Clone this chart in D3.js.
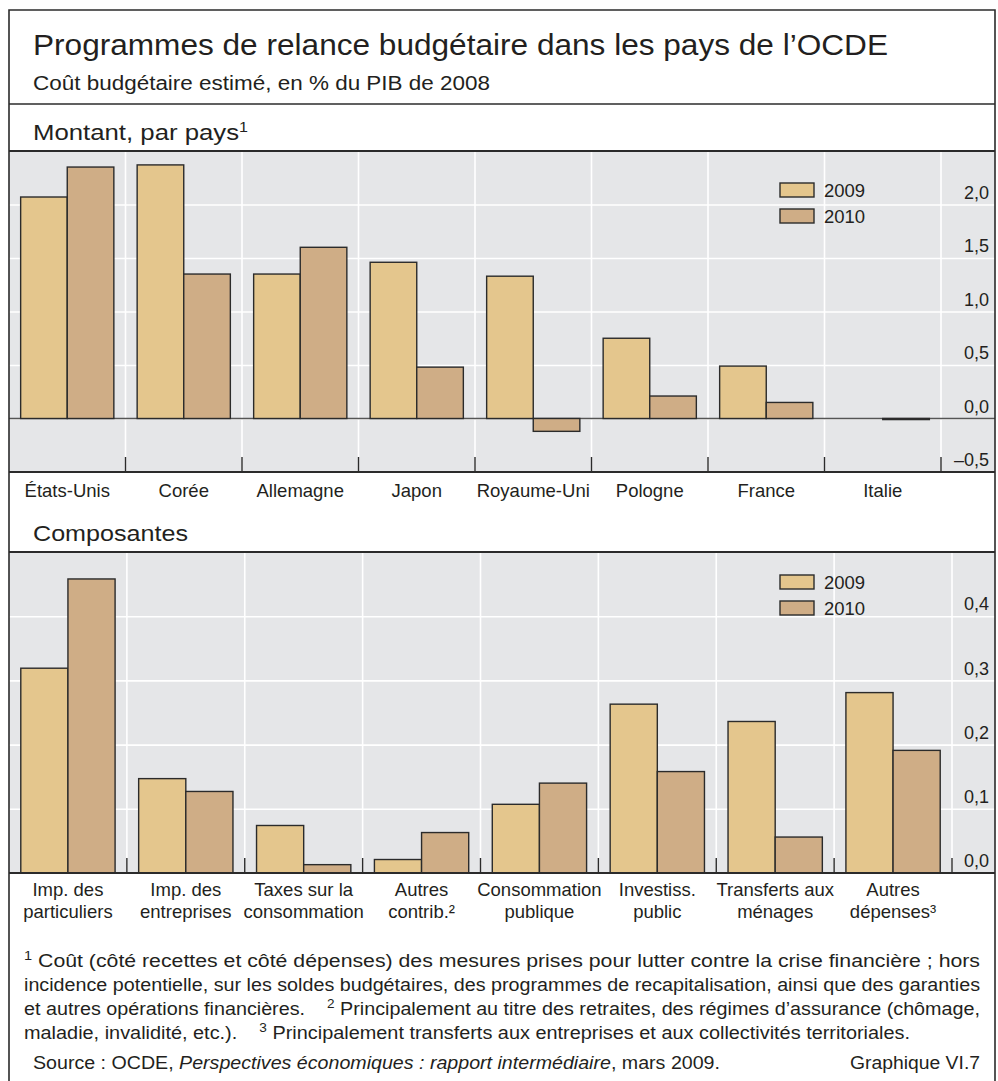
<!DOCTYPE html>
<html>
<head>
<meta charset="utf-8">
<script src="https://cdn.jsdelivr.net/npm/d3@7"></script>
<style>
  body { margin: 0; background: #fff; }
  svg text { font-family: "Liberation Sans", Arial, sans-serif; fill: #231f20; }
</style>
</head>
<body>
<div id="chart"></div>
<script>
// Data
const years = ["2009", "2010"];

const countries = ["États-Unis", "Corée", "Allemagne", "Japon", "Royaume-Uni", "Pologne", "France", "Italie"];
const country2009 = [2.07, 2.37, 1.35, 1.46, 1.33, 0.75, 0.49, 0.0];
const country2010 = [2.35, 1.35, 1.60, 0.48, -0.12, 0.21, 0.15, -0.01];
const countryTicks = [-0.5, 0, 0.5, 1, 1.5, 2];

const components = [
    "Imp. des|particuliers", "Imp. des|entreprises", "Taxes sur la|consommation", "Autres|contrib.²",
    "Consommation|publique", "Investiss.|public", "Transferts aux|ménages", "Autres|dépenses³"
];
const comp2009 = [0.319, 0.147, 0.074, 0.021, 0.107, 0.263, 0.236, 0.281];
const comp2010 = [0.458, 0.127, 0.013, 0.063, 0.140, 0.158, 0.056, 0.191];
const compTicks = [0, 0.1, 0.2, 0.3, 0.4];

const colors = { "2009": "#e4c68d", "2010": "#cfad86" };
const frameColor = "#2b2b2b";

const width = 998, height = 1081;
const frameLeft = 9, frameRight = 995, frameTop = 10;

const svg = d3.select("#chart").append("svg")
    .attr("width", width)
    .attr("height", height);

// number format with comma decimal and long minus
const fmt = v => (v < 0 ? "\u2013" : "") + d3.format(".1f")(Math.abs(v)).replace(".", ",");

// stretch a text line to the width it has in the print
const fit = (t, w) => t.attr("textLength", w).attr("lengthAdjust", "spacingAndGlyphs");

// Titles
fit(svg.append("text").attr("x", 33).attr("y", 55)
    .style("font-size", "30px")
    .text("Programmes de relance budgétaire dans les pays de l’OCDE"), 855);
fit(svg.append("text").attr("x", 33).attr("y", 90)
    .style("font-size", "19.5px")
    .text("Coût budgétaire estimé, en % du PIB de 2008"), 457);
const h1 = svg.append("text").attr("x", 33).attr("y", 140).style("font-size", "22.5px");
h1.append("tspan").text("Montant, par pays");
h1.append("tspan").attr("dy", -8).style("font-size", "14px").text("1");
fit(h1, 215);
fit(svg.append("text").attr("x", 33).attr("y", 541)
    .style("font-size", "22.5px")
    .text("Composantes"), 155);

function panel(cfg) {
    const g = svg.append("g");
    const rows = cfg.cats.map((c, i) => ({ cat: c, "2009": cfg.v2009[i], "2010": cfg.v2010[i] }));

    const x = d3.scaleBand().domain(cfg.cats).range([frameLeft, cfg.barRight]);
    const xs = d3.scaleBand().domain(years)
        .range([x.bandwidth() * 0.1, x.bandwidth() * 0.9]);
    const y = d3.scaleLinear().domain(cfg.domain).range([cfg.y1, cfg.y0]);

    // background
    g.append("rect")
        .attr("x", frameLeft).attr("y", cfg.y0)
        .attr("width", frameRight - frameLeft).attr("height", cfg.y1 - cfg.y0)
        .attr("fill", "#e5e6e8");

    // horizontal gridlines
    g.append("g")
        .attr("transform", `translate(${frameLeft},0)`)
        .call(d3.axisRight(y).tickValues(cfg.ticks).tickSize(frameRight - frameLeft).tickFormat(""))
        .call(a => a.select(".domain").remove())
        .call(a => a.selectAll("line").attr("stroke", "#fff").attr("stroke-width", 1.6));

    // vertical gridlines at band boundaries
    const bounds = cfg.cats.map(c => x(c) + x.bandwidth());
    g.selectAll(".vgrid").data(bounds).enter().append("line")
        .attr("x1", d => d).attr("x2", d => d)
        .attr("y1", cfg.y0).attr("y2", cfg.y1)
        .attr("stroke", "#fff").attr("stroke-width", 1.6);

    // tick labels on the right
    g.append("g")
        .attr("transform", `translate(989,0)`)
        .call(d3.axisLeft(y).tickValues(cfg.ticks).tickSize(0).tickPadding(0).tickFormat(fmt))
        .call(a => a.select(".domain").remove())
        .call(a => a.selectAll("text")
            .attr("dy", "-0.35em")
            .style("font-size", "18px")
            .style("font-family", "Liberation Sans, Arial, sans-serif")
            .attr("fill", "#231f20"));

    // zero line
    if (cfg.domain[0] < 0) {
        g.append("line")
            .attr("x1", frameLeft).attr("x2", frameRight)
            .attr("y1", y(0)).attr("y2", y(0))
            .attr("stroke", "#555").attr("stroke-width", 1.6);
    }

    // bars
    g.selectAll(".grp").data(rows).enter().append("g")
        .attr("transform", d => `translate(${x(d.cat)},0)`)
        .selectAll("rect")
        .data(d => years.map(k => ({ key: k, value: d[k] })))
        .enter().append("rect")
        .attr("x", d => xs(d.key))
        .attr("width", xs.bandwidth())
        .attr("y", d => y(Math.max(0, d.value)))
        .attr("height", d => Math.abs(y(d.value) - y(0)))
        .attr("fill", d => colors[d.key])
        .attr("stroke", "#2b2b2b")
        .attr("stroke-width", 1.4);

    // bottom tick marks
    g.selectAll(".tick-mark").data(bounds).enter().append("line")
        .attr("x1", d => d).attr("x2", d => d)
        .attr("y1", cfg.y1 - 15).attr("y2", cfg.y1)
        .attr("stroke", frameColor).attr("stroke-width", 1.4);

    // frame lines top and bottom
    [cfg.y0, cfg.y1].forEach(yy => {
        g.append("line")
            .attr("x1", frameLeft).attr("x2", frameRight)
            .attr("y1", yy).attr("y2", yy)
            .attr("stroke", frameColor).attr("stroke-width", 2.2);
    });

    // category labels
    const lab = g.selectAll(".cat").data(cfg.cats).enter().append("text")
        .attr("text-anchor", "middle")
        .attr("x", d => x(d) + x.bandwidth() / 2)
        .attr("y", cfg.labelY)
        .style("font-size", cfg.labelSize);
    lab.selectAll("tspan")
        .data(d => d.split("|"))
        .enter().append("tspan")
        .attr("x", function() { return d3.select(this.parentNode).attr("x"); })
        .attr("dy", (d, i) => i === 0 ? 0 : 22)
        .text(d => d);

    // legend
    const lg = g.append("g").attr("transform", `translate(780,${cfg.legendY})`);
    years.forEach((k, i) => {
        lg.append("rect")
            .attr("x", 0).attr("y", i * 26)
            .attr("width", 34).attr("height", 14)
            .attr("fill", colors[k]).attr("stroke", "#2b2b2b").attr("stroke-width", 1.4);
        lg.append("text")
            .attr("x", 44).attr("y", i * 26 + 13.5)
            .style("font-size", "18.5px")
            .text(k);
    });
}

panel({
    cats: countries, v2009: country2009, v2010: country2010,
    domain: [-0.5, 2.5], ticks: countryTicks,
    y0: 151, y1: 472, barRight: 941, labelY: 497, legendY: 183, labelSize: "18.5px"
});

panel({
    cats: components, v2009: comp2009, v2010: comp2010,
    domain: [0, 0.5], ticks: compTicks,
    y0: 552, y1: 873, barRight: 952, labelY: 896, legendY: 575, labelSize: "18.5px"
});

// outer frame
svg.append("path")
    .attr("d", `M${frameLeft},${height} V${frameTop} H${frameRight} V${height}`)
    .attr("fill", "none").attr("stroke", frameColor).attr("stroke-width", 1.6);
svg.append("line")
    .attr("x1", frameLeft).attr("x2", frameRight).attr("y1", 104).attr("y2", 104)
    .attr("stroke", frameColor).attr("stroke-width", 1.4);

// Footnotes
const notes = [
    { y: 967, w: 956, parts: [["sup", "1"], ["", " Coût (côté recettes et côté dépenses) des mesures prises pour lutter contre la crise financière ; hors"]] },
    { y: 991, w: 956, parts: [["", "incidence potentielle, sur les soldes budgétaires, des programmes de recapitalisation, ainsi que des garanties"]] },
    { y: 1015, w: 956, parts: [["", "et autres opérations financières.    "], ["sup", "2"], ["", " Principalement au titre des retraites, des régimes d’assurance (chômage,"]] },
    { y: 1039, w: 886, parts: [["", "maladie, invalidité, etc.).    "], ["sup", "3"], ["", " Principalement transferts aux entreprises et aux collectivités territoriales."]] }
];
notes.forEach(n => {
    const t = svg.append("text")
        .attr("x", 24).attr("y", n.y)
        .style("font-size", "17.5px")
        .attr("xml:space", "preserve");
    n.parts.forEach(p => {
        const s = t.append("tspan").text(p[1]);
        if (p[0] === "sup") s.attr("baseline-shift", "super").style("font-size", "12px");
    });
    fit(t, n.w);
});

const src = svg.append("text").attr("x", 33).attr("y", 1069).style("font-size", "17.5px");
src.append("tspan").text("Source : OCDE, ");
src.append("tspan").style("font-style", "italic").text("Perspectives économiques : rapport intermédiaire");
src.append("tspan").text(", mars 2009.");
fit(src, 687);
fit(svg.append("text").attr("x", 850).attr("y", 1069)
    .style("font-size", "17.5px")
    .text("Graphique VI.7"), 130);
</script>
</body>
</html>
